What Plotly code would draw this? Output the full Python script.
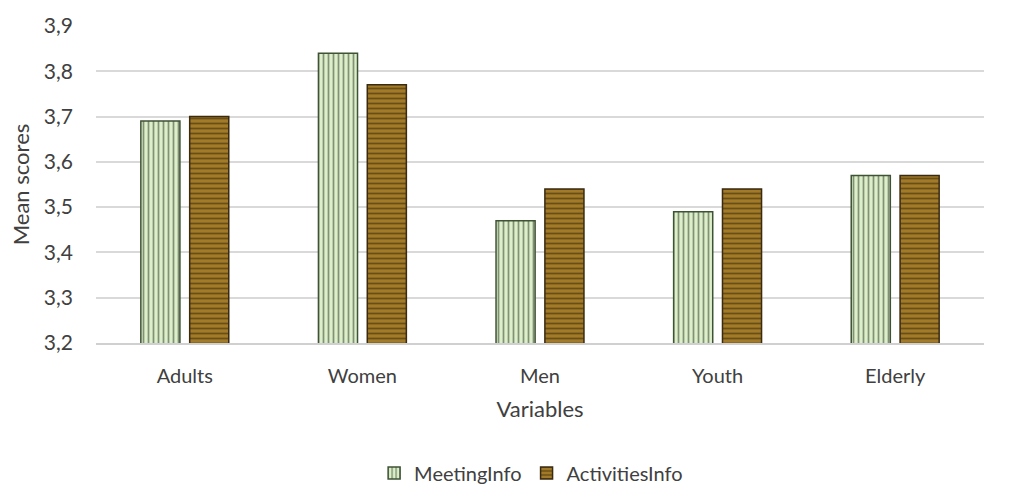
import plotly.graph_objects as go

categories = ["Adults", "Women", "Men", "Youth", "Elderly"]
meeting_info = [3.69, 3.84, 3.47, 3.49, 3.57]
activities_info = [3.70, 3.77, 3.54, 3.54, 3.57]
y_ticks = [3.2, 3.3, 3.4, 3.5, 3.6, 3.7, 3.8, 3.9]

font_family = "Lato, Open Sans, sans-serif"

fig = go.Figure()
fig.add_trace(go.Bar(
    x=categories, y=meeting_info, name="MeetingInfo",
    marker=dict(color="#dcefca", line=dict(color="#3e5234", width=1.5),
                pattern=dict(shape="|", fgcolor="#26331f", bgcolor="#dcefca",
                             size=5, solidity=0.35)),
))
fig.add_trace(go.Bar(
    x=categories, y=activities_info, name="ActivitiesInfo",
    marker=dict(color="#9c7426", line=dict(color="#3a2a10", width=1.5),
                pattern=dict(shape="-", fgcolor="#2e2108", bgcolor="#a27a28",
                             size=5, solidity=0.35)),
))

fig.update_layout(
    width=1019, height=488,
    margin=dict(l=96, r=35, t=26, b=145, autoexpand=False),
    paper_bgcolor="white", plot_bgcolor="white",
    separators=",.",
    barmode="group", bargap=0.45, bargroupgap=0.2,
    font=dict(family=font_family, color="#404040", size=20),
    xaxis=dict(title=dict(text="Variables", font=dict(size=22, color="#404040"), standoff=16),
               showline=True, linecolor="#d0d0d0", linewidth=2,
               tickfont=dict(size=20, color="#404040"), ticks="",
               ticklabelstandoff=14, automargin=False),
    yaxis=dict(title=dict(text="Mean scores", font=dict(size=22, color="#404040"), standoff=8),
               range=[3.2, 3.9], tickvals=y_ticks, tickformat=".1f",
               showgrid=True, gridcolor="#d9d9d9", gridwidth=1.5,
               zeroline=False, showline=False, automargin=False,
               ticklabelstandoff=22,
               tickfont=dict(size=21, color="#404040")),
    legend=dict(orientation="h", x=0.49, xanchor="center",
                y=-0.41, yanchor="middle",
                font=dict(size=20, color="#404040"), itemwidth=30, traceorder="normal"),
)

fig.write_html("out.html")
